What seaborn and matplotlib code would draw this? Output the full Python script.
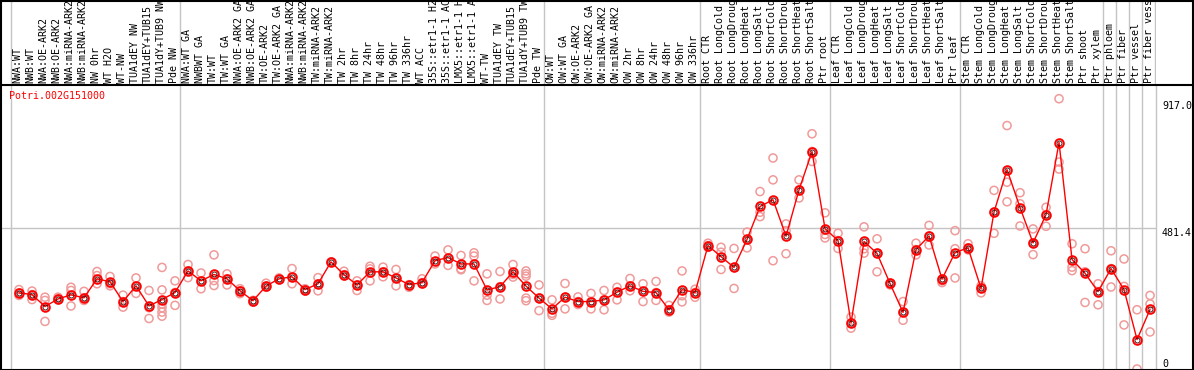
import numpy as np
import pandas as pd
import matplotlib
matplotlib.use("Agg")
import matplotlib.pyplot as plt
import seaborn as sns
from matplotlib import transforms
from matplotlib.lines import Line2D
from matplotlib.patches import Rectangle

gene = "Potri.002G151000"

samples = [
    "NWA:WT", "NWB:WT", "NWA:OE-ARK2", "NWB:OE-ARK2", "NWA:miRNA-ARK2", "NWB:miRNA-ARK2",
    "NW 0hr", "WT H2O", "WT-NW", "TUA1dEY NW", "TUA1dEY+TUB15", "TUA1dY+TUB9 NW", "Pde NW",
    "NWA:WT GA", "NWBWT GA", "TW:WT", "TW:WT GA", "NWA:OE-ARK2 GA", "NWB:OE-ARK2 GA",
    "TW:OE-ARK2", "TW:OE-ARK2 GA", "NWA:miRNA-ARK2", "NWB:miRNA-ARK2", "TW:miRNA-ARK2",
    "TW:miRNA-ARK2", "TW 2hr", "TW 8hr", "TW 24hr", "TW 48hr", "TW 96hr", "TW 336hr",
    "WT ACC", "35S::etr1-1 H2", "35S::etr1-1 AC", "LMX5::etr1-1 H", "LMX5::etr1-1 A",
    "WT-TW", "TUA1dEY TW", "TUA1dEY+TUB15", "TUA1dY+TUB9 TW", "Pde TW",
    "OW:WT", "OW:WT GA", "OW:OE-ARK2", "OW:OE-ARK2 GA", "OW:miRNA-ARK2", "OW:miRNA-ARK2",
    "OW 2hr", "OW 8hr", "OW 24hr", "OW 48hr", "OW 96hr", "OW 336hr",
    "Root CTR", "Root LongCold", "Root LongDroug", "Root LongHeat", "Root LongSalt",
    "Root ShortCold", "Root ShortDrou", "Root ShortHeat", "Root ShortSalt", "Ptr root",
    "Leaf CTR", "Leaf LongCold", "Leaf LongDroug", "Leaf LongHeat", "Leaf LongSalt",
    "Leaf ShortCold", "Leaf ShortDrou", "Leaf ShortHeat", "Leaf ShortSalt", "Ptr leaf",
    "Stem CTR", "Stem LongCold", "Stem LongDroug", "Stem LongHeat", "Stem LongSalt",
    "Stem ShortCold", "Stem ShortDrou", "Stem ShortHeat", "Stem ShortSalt", "Ptr shoot",
    "Ptr xylem", "Ptr phloem", "Ptr fiber", "Ptr vessel", "Ptr fiber vess",
]

group_starts = [0, 13, 41, 53, 63, 73, 84, 85, 86, 87]

means = [
    261, 255, 214, 240, 254, 244, 309, 299, 231, 285, 216, 238, 262,
    336, 302, 324, 309, 268, 234, 284, 309, 316, 272, 292, 367, 323, 288, 333, 333,
    312, 289, 296, 371, 382, 360, 360, 271, 282, 333, 284, 243,
    206, 246, 231, 231, 237, 263, 285, 266, 262, 203, 272, 262,
    423, 385, 348, 444, 557, 580, 455, 614, 745, 481,
    440, 158, 437, 396, 293, 194, 409, 456, 308, 399,
    415, 276, 538, 683, 553, 432, 529, 776, 375, 328, 265,
    344, 272, 101, 204,
]

replicates = [
    [272, 261, 252], [267, 255, 238], [246, 235, 163], [246, 237, 240], [280, 269, 216],
    [266, 235, 244], [334, 320, 292], [317, 292, 285], [253, 212, 231], [312, 259, 285],
    [269, 173, 210], [348, 271, 223, 210, 195, 181], [302, 218, 262],
    [358, 313, 336], [329, 275, 302], [391, 303, 286], [326, 288, 309], [275, 258, 268],
    [235, 229, 234], [294, 284, 280], [312, 306, 309], [344, 292, 316], [275, 267, 272],
    [313, 268, 292], [367, 365], [335, 319, 323], [302, 269, 288], [352, 343, 302],
    [349, 316, 333], [341, 285, 312], [289, 280], [309, 292, 296], [387, 360], [408, 355],
    [389, 343, 340], [398, 387, 302], [326, 253, 235], [334, 240, 282], [358, 324, 315],
    [336, 326, 318, 243, 234], [288, 200, 243],
    [237, 191, 184], [293, 206, 246], [247, 221, 231], [259, 206, 231], [269, 203, 237],
    [280, 237, 263], [310, 268, 285], [292, 231, 266], [300, 235, 262], [218, 195, 203],
    [336, 251, 230], [273, 246, 262],
    [431, 417, 423], [417, 400, 341], [413, 276, 348], [469, 415, 444], [608, 537, 522],
    [723, 648, 371], [497, 474, 395], [648, 586, 614], [806, 711, 745], [535, 461, 449],
    [465, 413, 440], [178, 140, 158], [487, 412, 397], [446, 333, 396], [294, 288, 293],
    [231, 167, 194], [431, 391, 409], [492, 425, 456], [302, 296, 308], [474, 412, 312],
    [429, 408, 415], [285, 261, 276], [612, 465, 538], [834, 640, 573], [604, 566, 490],
    [480, 392, 432], [554, 489, 529], [926, 709, 685], [429, 349, 337], [412, 333, 228],
    [292, 220, 265],
    [405, 281, 344], [377, 283, 151], [203, 0], [252, 223, 127],
]

y_ticks = [917.0, 481.4, 0]
y_tick_labels = ["917.0", "481.4", "0"]

sns.set_theme(style="white")
plt.rcParams["font.family"] = ["DejaVu Sans Mono", "DejaVu Sans"]

W, H = 1194, 370
fig = plt.figure(figsize=(W / 100, H / 100), dpi=100)
fig.patch.set_facecolor("white")

ax_l, ax_r, ax_t, ax_b = 1.5, 1155.5, 85, 369
ax = fig.add_axes([ax_l / W, (H - ax_b) / H, (ax_r - ax_l) / W, (ax_b - ax_t) / H])
ax_lab = fig.add_axes([ax_l / W, (H - ax_t) / H, (ax_r - ax_l) / W, ax_t / H])

xlim = (-1.346, 87.42)
ax.set_xlim(*xlim)
ax.set_ylim(0, 973)
ax_lab.set_xlim(*xlim)
ax_lab.set_ylim(0, ax_t)
ax_lab.axis("off")

mean_df = pd.DataFrame({"pos": np.arange(len(means)), "value": means})
rep_df = pd.DataFrame(
    [(i, v) for i, reps in enumerate(replicates) for v in reps], columns=["pos", "value"]
)

grey = "#c4c4c4"
boundaries = [s - 0.62 for s in group_starts]
for b in boundaries:
    ax.axvline(b, color=grey, lw=1.0, zorder=0)
ax.axhline(481.4, color=grey, lw=1.0, zorder=0)
ax_lab.vlines(boundaries + [xlim[1] - 0.02], 0, ax_t, color=grey, lw=1.0)

sns.scatterplot(data=rep_df, x="pos", y="value", ax=ax, s=34, marker="o", zorder=2)
coll = ax.collections[-1]
coll.set_facecolor("none")
coll.set_edgecolor("#f09a9a")
coll.set_linewidth(1.1)

sns.lineplot(data=mean_df, x="pos", y="value", ax=ax, color="red", linewidth=1.0,
             marker="o", markersize=6.2, markerfacecolor="none",
             markeredgecolor="red", markeredgewidth=1.4, zorder=3)
sns.lineplot(data=mean_df, x="pos", y="value", ax=ax, linestyle="none",
             marker="o", markersize=3.6, markerfacecolor="none",
             markeredgecolor="#300000", markeredgewidth=0.6, zorder=4)

ax.set_xticks([])
ax.set_yticks([])
ax.set_xlabel("")
ax.set_ylabel("")
for side in ["left", "top", "bottom"]:
    ax.spines[side].set_visible(False)
ax.spines["right"].set_color(grey)
ax.spines["right"].set_linewidth(1.0)

for i, lab in enumerate(samples):
    ax_lab.text(i - 0.1, 2, lab, rotation=90, ha="center", va="bottom",
                fontsize=7.2, color="black")

ax.text(8 / (ax_r - ax_l), 1 - 6 / (ax_b - ax_t), gene, transform=ax.transAxes,
        color="red", fontsize=7.2, ha="left", va="top")

tr = transforms.blended_transform_factory(fig.transFigure, ax.transData)
for val, lab in zip(y_ticks, y_tick_labels):
    va = "bottom" if val == 0 else "top"
    ax.text(1162 / W, val, lab, transform=tr, ha="left", va=va,
            fontsize=7.2, color="black", clip_on=False)

fig.add_artist(Line2D([0, 1], [(H - ax_t) / H] * 2, transform=fig.transFigure,
                      color="black", lw=1.5))
fig.add_artist(Rectangle((0.5 / W, 0.5 / H), (W - 1.5) / W, (H - 1.5) / H,
                         transform=fig.transFigure, fill=False, ec="black", lw=1.5))

fig.savefig("out.png", dpi=100)
